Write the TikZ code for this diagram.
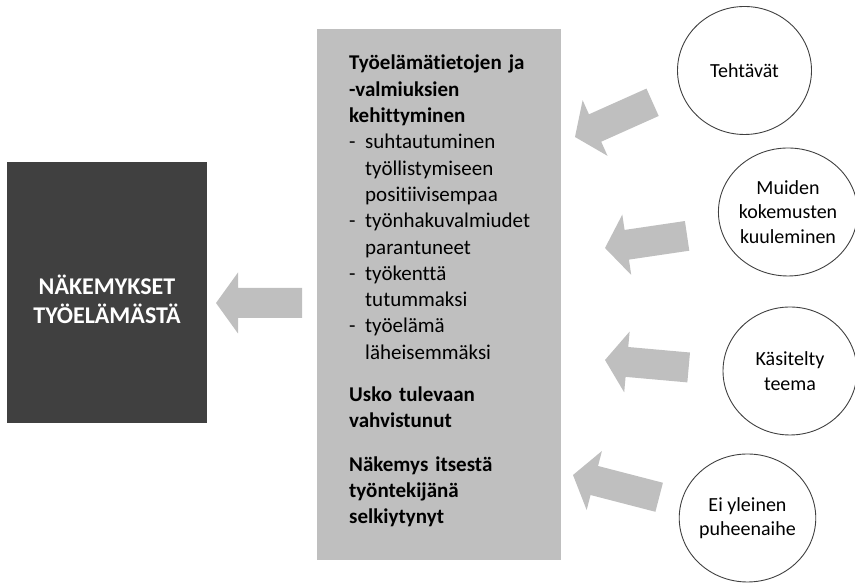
\documentclass[tikz,border=0pt]{standalone}
\usepackage{fontspec}
\setmainfont{Carlito}[Ligatures=NoCommon]
\usetikzlibrary{shapes.geometric}

\definecolor{darkbox}{HTML}{404040}
\definecolor{lightbox}{HTML}{BFBFBF}
\definecolor{ringline}{HTML}{404040}

% thick grey block arrow: tip at #1, body pointing back along angle #2, length #3
\newcommand\greyarrow[3]{%
  \fill[lightbox, shift={#1}, rotate=#2]
    (0,0) -- (22,30.5) -- (22,15) -- (#3,15) -- (#3,-15) -- (22,-15) -- (22,-30.5) -- cycle;}

\tikzset{
  goalbox/.style={rectangle, fill=darkbox, minimum width=200pt, minimum height=261pt, inner sep=0pt},
  goaltext/.style={text=white, font=\bfseries\fontsize{24}{28.5}\selectfont, align=center, text width=195pt, inner sep=0pt},
  resultbox/.style={rectangle, fill=lightbox, minimum width=244pt, minimum height=531pt, inner sep=0pt},
  resulttext/.style={font=\fontsize{21}{26.3}\selectfont, align=left, text width=210pt, inner sep=0pt},
  factor/.style={ellipse, draw=ringline, line width=0.9pt, minimum width=134pt, minimum height=128pt,
                 inner sep=0pt, align=center, font=\fontsize{20}{24.3}\selectfont},
}

\newcommand\dashitem{\makebox[16pt][l]{-}}
\newcommand\itemcont{\hspace*{16pt}}

\begin{document}
\begin{tikzpicture}[x=1pt, y=1pt]
  \useasboundingbox (0,0) rectangle (855,585);

  % outcome box on the left
  \node[goalbox] (goal) at (107,292.5) {};
  \node[goaltext, anchor=base] (goallabel) at (107,290) {NÄKEMYKSET\\TYÖELÄMÄSTÄ};

  % central box with the listed changes
  \node[resultbox] (result) at (439,290.5) {};
  \node[resulttext, anchor=base west] (resultlabel) at (349,515) {%
    \textbf{Työelämätietojen ja}\\
    \textbf{-valmiuksien}\\
    \textbf{kehittyminen}\\
    \dashitem suhtautuminen\\
    \itemcont työllistymiseen\\
    \itemcont positiivisempaa\\
    \dashitem työnhakuvalmiudet\\
    \itemcont parantuneet\\
    \dashitem työkenttä\\
    \itemcont tutummaksi\\
    \dashitem työelämä\\
    \itemcont läheisemmäksi\\[16pt]
    \textbf{Usko tulevaan}\\
    \textbf{vahvistunut}\\[17pt]
    \textbf{Näkemys itsestä}\\
    \textbf{työntekijänä}\\
    \textbf{selkiytynyt}};

  % contributing factors
  \node[factor] (tasks)   at (744.5,514.5) {Tehtävät};
  \node[factor] (others)  at (788,373)     {Muiden\\kokemusten\\kuuleminen};
  \node[factor] (theme)   at (790,214)     {Käsitelty\\teema};
  \node[factor] (rare)    at (747.5,67)    {Ei yleinen\\puheenaihe};

  % block arrows
  \greyarrow{(216,282)}{0}{86}
  \greyarrow{(575,448)}{24.1}{85}
  \greyarrow{(605,337)}{8.4}{83}
  \greyarrow{(605,225)}{-5.1}{84}
  \greyarrow{(573,110)}{-14.5}{89}
\end{tikzpicture}
\end{document}
